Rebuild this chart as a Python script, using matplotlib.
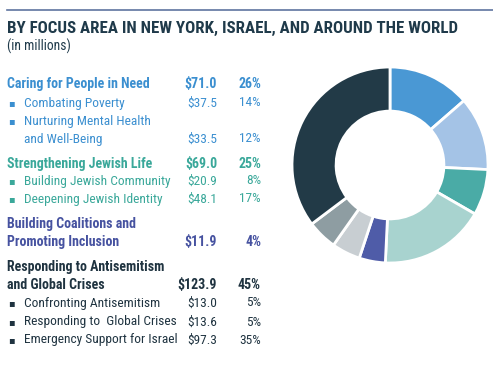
import matplotlib
matplotlib.use('Agg')
import matplotlib.pyplot as plt
from matplotlib import font_manager

# data
slice_labels = ['Combating Poverty', 'Nurturing Mental Health', 'Building Jewish Community',
                'Deepening Jewish Identity', 'Building Coalitions', 'Confronting Antisemitism',
                'Responding to Global Crises', 'Emergency Support for Israel']
slice_values = [37.5, 33.5, 20.9, 48.1, 11.9, 13.0, 13.6, 97.3]
slice_colors = ['#4a98d4', '#a4c3e6', '#4aaba6', '#a8d3cf', '#4f5ca8', '#c8ced2', '#8e9da2', '#223a47']

row_labels = ['Caring for People in Need', 'Combating Poverty', 'Nurturing Mental Health',
              'and Well-Being', 'Strengthening Jewish Life', 'Building Jewish Community',
              'Deepening Jewish Identity', 'Building Coalitions and', 'Promoting Inclusion',
              'Responding to Antisemitism', 'and Global Crises', 'Confronting Antisemitism',
              'Responding to  Global Crises', 'Emergency Support for Israel']
row_amounts = ['$71.0', '$37.5', '', '$33.5', '$69.0', '$20.9', '$48.1', '', '$11.9',
               '', '$123.9', '$13.0', '$13.6', '$97.3']
row_pcts = ['26%', '14%', '', '12%', '25%', '8%', '17%', '', '4%',
            '', '45%', '5%', '5%', '35%']
row_kind = ['head', 'bullet', 'bullet', 'cont', 'head', 'bullet', 'bullet', 'head', 'head',
            'head', 'head', 'bullet', 'bullet', 'bullet']
row_group = [0, 0, 0, 0, 1, 1, 1, 2, 2, 3, 3, 3, 3, 3]
row_y = [84, 103, 121, 139, 164, 181, 199, 224, 242, 267, 285, 303, 322, 340]
group_colors = ['#3b8fd0', '#3aa89a', '#4652a0', '#1f3340']

# pick a condensed family that has regular and bold
weights = {}
for f in font_manager.fontManager.ttflist:
    w = f.weight if isinstance(f.weight, int) else 400
    weights.setdefault(f.name, set()).add(w)
fam = 'DejaVu Sans'
for cand in ['Roboto Condensed', 'Barlow Semi Condensed', 'Archivo Narrow', 'PT Sans Narrow']:
    ws = weights.get(cand, set())
    if 400 in ws and any(w >= 600 for w in ws):
        fam = cand
        break
plt.rcParams['font.family'] = [fam, 'DejaVu Sans']

W, H = 493, 385
fig = plt.figure(figsize=(W / 100, H / 100), dpi=100)
bg = fig.add_axes([0, 0, 1, 1])
bg.set_xlim(0, W)
bg.set_ylim(H, 0)
bg.axis('off')

bg.plot([7, W], [10, 10], color='#5f74a0', lw=1.2)
bg.text(7, 28, 'BY FOCUS AREA IN NEW YORK, ISRAEL, AND AROUND THE WORLD', fontsize=12.2,
        fontweight='bold', color='#1f3a4a', va='center', ha='left')
bg.text(7, 46, '(in millions)', fontsize=9.8, color='#1f3a4a', va='center', ha='left')

for lab, amt, pct, kind, g, y in zip(row_labels, row_amounts, row_pcts, row_kind, row_group, row_y):
    c = group_colors[g]
    wt = 'bold' if kind == 'head' else 'normal'
    fs = 10 if kind == 'head' else 9.6
    if kind == 'head':
        bg.text(7, y, lab, fontsize=fs, fontweight='bold', color=c, va='center', ha='left')
    else:
        if kind == 'bullet':
            bg.text(8.5, y, '\u25aa', fontsize=7, color=c, va='center', ha='left', family='DejaVu Sans')
        bg.text(24, y, lab, fontsize=fs, color=c, va='center', ha='left')
    if amt:
        bg.text(217, y, amt, fontsize=fs, fontweight=wt, color=c, va='center', ha='right')
        bg.text(261, y, pct, fontsize=fs, fontweight=wt, color=c, va='center', ha='right')

# donut
cx, cy, r = 390, 165, 98
ax = fig.add_axes([(cx - r) / W, 1 - (cy + r) / H, 2 * r / W, 2 * r / H])
ax.pie(slice_values, colors=slice_colors, startangle=90, counterclock=False, radius=1,
       wedgeprops=dict(width=0.45, edgecolor='white', linewidth=2))
ax.set_xlim(-1, 1)
ax.set_ylim(-1, 1)
ax.set_aspect('equal')

fig.savefig('out.png', dpi=100)
